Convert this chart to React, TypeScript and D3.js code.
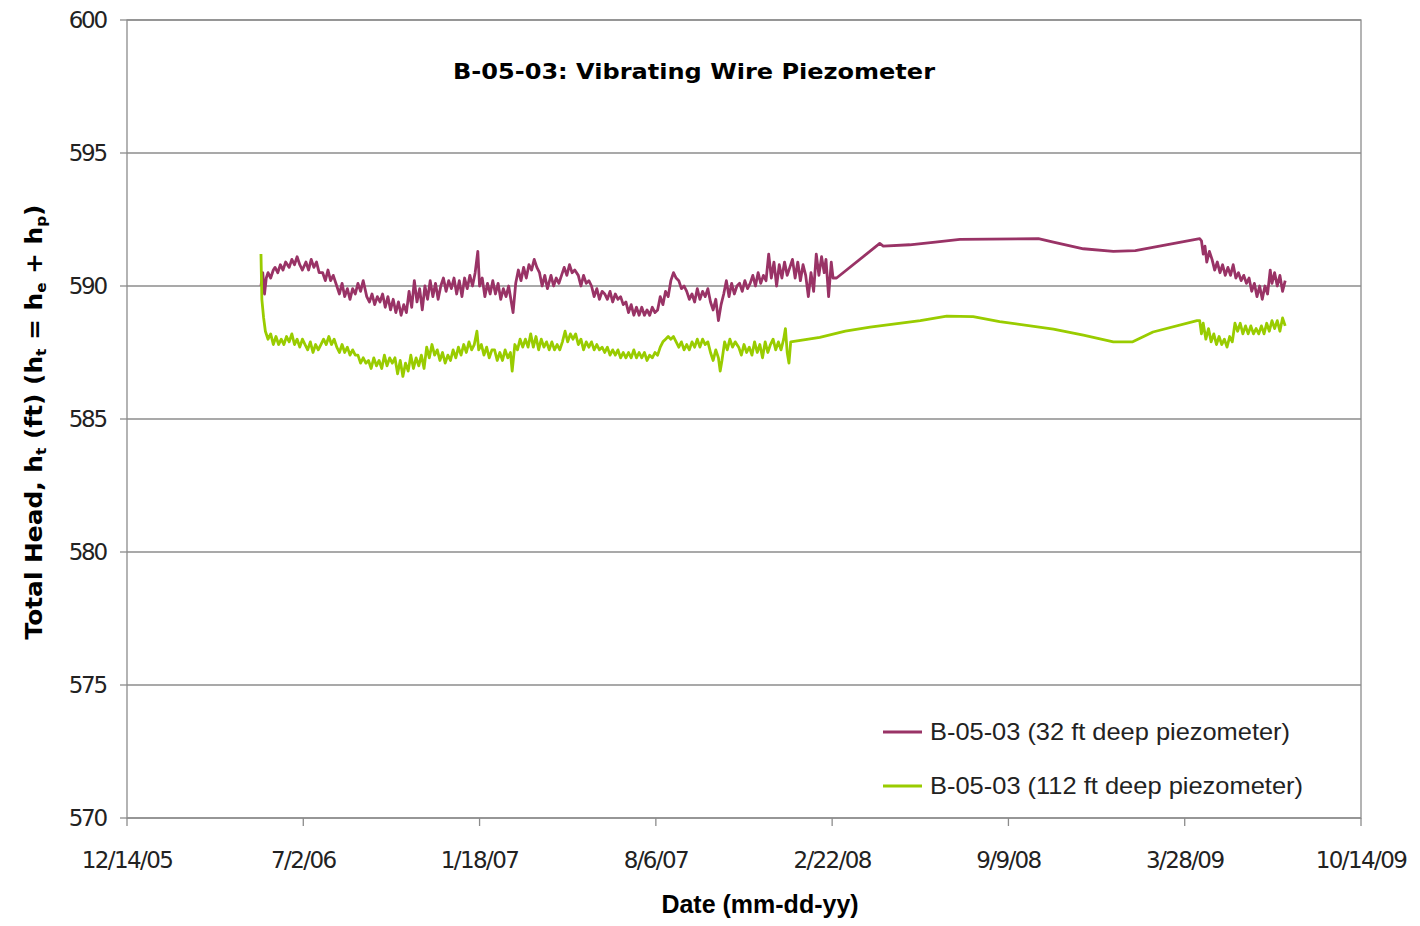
import React from "react";
import * as d3 from "d3";

const TITLE = "B-05-03: Vibrating Wire Piezometer";
const X_TICK_LABELS = ["12/14/05", "7/2/06", "1/18/07", "8/6/07", "2/22/08", "9/9/08", "3/28/09", "10/14/09"];
const Y_TICKS = [570, 575, 580, 585, 590, 595, 600];
const START_DATE = "12/14/05";
const SERIES_NAMES = ["B-05-03 (32 ft deep piezometer)", "B-05-03 (112 ft deep piezometer)"];
const SERIES_COLORS = ["#993366", "#99cc00"];

// [days since 12/14/05, total head ft]
const shallow: [number, number][] = [
  [152, 590.0], [154, 590.5], [156, 589.7], [158, 590.3], [160, 590.5], [163, 590.3], [166, 590.6],
  [168, 590.7], [171, 590.5], [174, 590.8], [177, 590.6], [180, 590.9],
  [184, 590.7], [187, 591.0], [190, 590.8], [193, 591.1], [196, 590.8], [199, 590.6],
  [203, 590.9], [206, 590.6], [209, 591.0], [212, 590.7], [215, 590.9], [218, 590.5],
  [222, 590.5], [225, 590.2], [228, 590.6], [231, 590.2], [234, 590.4],
  [238, 590.0], [241, 589.7], [244, 590.1], [247, 589.6], [250, 589.9], [253, 589.5], [256, 589.9], [259, 589.7],
  [262, 590.1], [265, 589.8], [268, 590.2],
  [272, 589.6], [275, 589.4], [278, 589.7], [281, 589.3], [284, 589.6], [287, 589.4],
  [290, 589.7], [293, 589.2], [296, 589.6], [299, 589.1], [302, 589.5],
  [305, 589.0], [308, 589.4], [311, 588.9], [314, 589.3], [317, 589.0],
  [320, 589.8], [323, 589.2], [326, 590.2], [329, 589.4], [332, 589.9], [335, 589.1], [338, 590.0],
  [341, 589.5], [344, 590.2], [347, 589.6], [350, 590.1], [353, 589.5], [356, 590.0],
  [359, 590.3], [362, 589.8], [365, 590.2], [368, 589.9], [371, 590.3],
  [374, 589.7], [377, 590.2], [380, 589.6],
  [383, 590.3], [386, 589.9], [389, 590.4], [392, 590.0], [395, 590.5], [398, 591.3], [400, 590.0],
  [403, 590.3], [406, 589.6], [409, 590.1], [412, 589.7], [415, 590.2],
  [418, 589.7], [421, 590.1], [424, 589.5], [427, 589.9], [430, 589.6], [433, 590.0], [436, 589.4], [438, 589.0],
  [441, 590.1], [444, 590.6], [447, 590.2], [450, 590.7], [453, 590.3], [456, 590.8],
  [459, 590.6], [462, 591.0], [465, 590.7],
  [468, 590.5], [471, 590.0], [474, 590.4], [477, 589.9],
  [481, 590.4], [484, 590.0], [487, 590.3], [490, 590.1], [493, 590.4],
  [496, 590.7], [499, 590.4], [502, 590.8], [505, 590.5], [508, 590.6],
  [512, 590.4], [515, 590.0], [518, 590.4], [521, 590.1], [524, 590.2],
  [527, 590.0], [530, 589.6], [533, 589.9], [536, 589.5], [539, 589.8],
  [542, 589.7], [545, 589.5], [548, 589.8], [551, 589.4], [554, 589.7], [557, 589.5], [560, 589.6], [563, 589.3],
  [566, 589.4], [569, 589.0], [572, 589.3], [575, 588.9], [578, 589.2],
  [581, 588.9], [584, 589.2], [587, 588.9], [590, 589.1], [593, 588.9], [596, 589.2], [599, 589.0], [602, 589.1],
  [605, 589.6], [608, 589.3], [611, 589.8], [614, 589.6],
  [617, 590.2], [620, 590.5], [623, 590.3],
  [626, 590.2], [629, 589.9], [632, 590.0],
  [635, 589.8], [638, 589.5], [641, 589.7], [644, 589.4],
  [647, 589.9], [650, 589.5], [653, 589.8], [656, 589.6], [659, 589.9],
  [662, 589.4], [665, 589.1], [668, 589.5], [671, 588.7],
  [674, 589.3], [677, 589.7], [680, 590.2], [683, 589.6], [686, 590.1], [689, 589.7], [692, 590.0],
  [695, 590.1], [698, 589.8], [701, 590.2], [704, 589.9], [707, 590.1],
  [710, 590.4], [713, 590.0], [716, 590.5], [719, 590.1], [722, 590.4],
  [725, 590.2], [728, 591.2], [731, 590.3], [734, 590.9], [737, 590.0],
  [740, 590.8], [743, 590.3], [746, 590.9], [749, 590.4], [752, 590.7],
  [755, 591.0], [758, 590.3], [761, 590.9], [764, 590.2], [767, 590.8],
  [770, 590.4], [773, 589.6], [776, 590.5], [779, 589.8],
  [782, 591.2], [785, 590.4], [788, 591.1], [791, 590.5],
  [793, 591.0], [796, 589.6], [799, 590.9], [801, 590.3],
  [805, 590.3], [854, 591.6], [858, 591.5], [888, 591.55], [917, 591.65], [945, 591.75], [1034, 591.78],
  [1051, 591.65], [1085, 591.4], [1119, 591.3], [1144, 591.33], [1217, 591.78],
  [1219, 591.7], [1221, 591.2], [1223, 591.5], [1225, 590.9], [1228, 591.3], [1231, 591.0], [1234, 590.6],
  [1237, 590.9], [1240, 590.5], [1243, 590.8], [1246, 590.4], [1249, 590.7], [1252, 590.4], [1255, 590.8],
  [1258, 590.3], [1261, 590.5], [1264, 590.2], [1267, 590.4], [1270, 590.1], [1273, 590.3], [1276, 589.8],
  [1279, 590.1], [1282, 589.6], [1285, 590.0], [1288, 589.5], [1291, 590.0], [1294, 589.7], [1297, 590.6],
  [1299, 590.1], [1302, 590.5], [1305, 590.0], [1308, 590.4], [1311, 589.8], [1314, 590.2],
];

const deep: [number, number][] = [
  [152, 591.2], [153, 589.5], [155, 588.8], [157, 588.3], [160, 588.0], [163, 588.2],
  [166, 587.8], [169, 588.1], [172, 587.8], [175, 588.0], [178, 587.8], [181, 588.1], [184, 587.9],
  [187, 588.2], [190, 587.8], [193, 588.0], [196, 587.7], [199, 588.0],
  [202, 587.8], [205, 587.6], [208, 587.9], [211, 587.5], [214, 587.8], [217, 587.6], [220, 587.8],
  [223, 588.0], [226, 587.8], [229, 588.1], [232, 587.8], [235, 588.0],
  [238, 587.7], [241, 587.5], [244, 587.8], [247, 587.5], [250, 587.7], [253, 587.4], [256, 587.6], [259, 587.4],
  [262, 587.4], [265, 587.1], [268, 587.3], [271, 587.1],
  [274, 587.2], [277, 586.9], [280, 587.3], [283, 587.0], [286, 587.2], [289, 586.9],
  [292, 587.4], [295, 587.0], [298, 587.3], [301, 587.1],
  [304, 587.3], [307, 586.7], [310, 587.2], [313, 586.6], [316, 587.1], [319, 586.8],
  [322, 587.4], [325, 586.9], [328, 587.3], [331, 587.0], [334, 587.4], [337, 586.9],
  [340, 587.7], [343, 587.3], [346, 587.8], [349, 587.4], [352, 587.6], [355, 587.2],
  [358, 587.5], [361, 587.1], [364, 587.4], [367, 587.2], [370, 587.6],
  [373, 587.3], [376, 587.7], [379, 587.4],
  [382, 587.8], [385, 587.5], [388, 587.9], [391, 587.6], [394, 587.8], [397, 588.3], [399, 587.6],
  [402, 587.8], [405, 587.4], [408, 587.7], [411, 587.3], [414, 587.6],
  [417, 587.6], [420, 587.2], [423, 587.5], [426, 587.2], [429, 587.6], [432, 587.3], [435, 587.5], [437, 586.8],
  [440, 587.8], [443, 587.6], [446, 588.0], [449, 587.7], [452, 588.0], [455, 587.7],
  [458, 588.2], [461, 587.7], [464, 588.1], [467, 587.6], [470, 588.0], [473, 587.7], [476, 587.9], [479, 587.6],
  [482, 587.9], [485, 587.6], [488, 587.8], [491, 587.6], [494, 587.9],
  [497, 588.3], [500, 587.9], [503, 588.2], [506, 588.0], [509, 588.2],
  [512, 587.8], [515, 588.0], [518, 587.6], [521, 587.9], [524, 587.7],
  [527, 587.9], [530, 587.6], [533, 587.8], [536, 587.6], [539, 587.7],
  [542, 587.5], [545, 587.7], [548, 587.4], [551, 587.6], [554, 587.4], [557, 587.6], [560, 587.3], [563, 587.5],
  [566, 587.3], [569, 587.5], [572, 587.3], [575, 587.6], [578, 587.3],
  [581, 587.5], [584, 587.3], [587, 587.5], [590, 587.2], [593, 587.4], [596, 587.3], [599, 587.5], [602, 587.4],
  [605, 587.7], [608, 587.9], [611, 588.0], [614, 588.1],
  [617, 588.0], [620, 588.1], [623, 587.9],
  [626, 587.7], [629, 587.9], [632, 587.6],
  [635, 587.8], [638, 587.6], [641, 587.9], [644, 587.7],
  [647, 588.0], [650, 587.7], [653, 588.0], [656, 587.8], [659, 587.9],
  [662, 587.5], [665, 587.2], [668, 587.6], [671, 587.3], [673, 586.8], [675, 587.2],
  [678, 587.9], [681, 587.6], [684, 588.0], [687, 587.7], [690, 587.9],
  [694, 587.7], [697, 587.4], [700, 587.8], [703, 587.5], [706, 587.7],
  [709, 587.4], [712, 587.9], [715, 587.5], [718, 587.8], [721, 587.3], [724, 587.9], [727, 587.5], [730, 587.8],
  [733, 588.0], [736, 587.6], [739, 587.9], [742, 587.6], [745, 588.0],
  [747, 588.4], [749, 587.5], [751, 587.1], [753, 587.9],
  [786, 588.07], [815, 588.3], [843, 588.45], [900, 588.7], [930, 588.87], [960, 588.85], [990, 588.66],
  [1051, 588.38], [1085, 588.15], [1119, 587.9], [1141, 587.9], [1164, 588.27], [1214, 588.7],
  [1217, 588.7], [1219, 588.2], [1221, 588.6], [1224, 588.0], [1227, 588.4], [1230, 587.9], [1233, 588.2],
  [1236, 587.8], [1239, 588.1], [1242, 587.8], [1245, 588.0], [1248, 587.7], [1251, 588.1], [1254, 587.9],
  [1257, 588.6], [1260, 588.3], [1263, 588.6], [1266, 588.2], [1269, 588.5], [1272, 588.2], [1275, 588.5],
  [1278, 588.2], [1281, 588.4], [1284, 588.2], [1287, 588.5], [1290, 588.2], [1293, 588.6], [1296, 588.3],
  [1299, 588.7], [1302, 588.4], [1305, 588.7], [1308, 588.3], [1311, 588.8], [1314, 588.5],
];

const SERIES = [shallow, deep];

const W = 1404;
const H = 916;
const M = { left: 119, right: 1353, top: 12, bottom: 810 };

export default function App() {
  const parse = d3.timeParse("%m/%d/%y");
  const start = parse(START_DATE) as Date;
  const tickDates = X_TICK_LABELS.map((s) => parse(s) as Date);
  const x = d3.scaleTime().domain([tickDates[0], tickDates[tickDates.length - 1]]).range([M.left, M.right]);
  const y = d3.scaleLinear().domain([570, 600]).range([M.bottom, M.top]);
  const line = d3
    .line<[number, number]>()
    .x((d) => x(d3.timeHour.offset(start, d[0] * 24)))
    .y((d) => y(d[1]))
    .curve(d3.curveLinear);

  const tickFont = "'DejaVu Sans', Verdana, sans-serif";
  const labelFont = "'Liberation Sans Narrow', 'Liberation Sans', Arial, sans-serif";

  return (
    <svg width={W} height={H} style={{ display: "block", background: "#fff" }}>
      {Y_TICKS.map((t) => (
        <line key={"g" + t} x1={M.left} x2={M.right} y1={y(t)} y2={y(t)} stroke="#8c8c8c" strokeWidth={1.3} />
      ))}
      <rect x={M.left} y={M.top} width={M.right - M.left} height={M.bottom - M.top} fill="none" stroke="#8c8c8c" strokeWidth={1.3} />
      {Y_TICKS.map((t) => (
        <g key={"y" + t}>
          <line x1={M.left - 7} x2={M.left} y1={y(t)} y2={y(t)} stroke="#8c8c8c" strokeWidth={1.3} />
          <text x={M.left - 21} y={y(t)} dy="0.35em" textAnchor="end" fontFamily={tickFont} fontSize={23} letterSpacing={-2.2} fill="#222">
            {t}
          </text>
        </g>
      ))}
      {tickDates.map((d, i) => (
        <g key={"x" + i}>
          <line x1={x(d)} x2={x(d)} y1={M.bottom} y2={M.bottom + 8} stroke="#8c8c8c" strokeWidth={1.3} />
          <text x={x(d)} y={M.bottom + 50} textAnchor="middle" fontFamily={tickFont} fontSize={23} letterSpacing={-1.6} fill="#222">
            {X_TICK_LABELS[i]}
          </text>
        </g>
      ))}
      {SERIES.map((s, i) => (
        <path key={"s" + i} d={line(s) || ""} fill="none" stroke={SERIES_COLORS[i]} strokeWidth={2.8} strokeLinejoin="round" />
      ))}
      <text x={686} y={71} textAnchor="middle" fontFamily="'DejaVu Sans', Verdana, sans-serif" fontWeight="bold" fontSize={21} fill="#000" textLength={482} lengthAdjust="spacingAndGlyphs">
        {TITLE}
      </text>
      <text x={752} y={905} textAnchor="middle" fontFamily={labelFont} fontWeight="bold" fontSize={25} fill="#000">
        Date (mm-dd-yy)
      </text>
      <text transform={`translate(34, ${(M.top + M.bottom) / 2 + 3}) rotate(-90)`} textAnchor="middle" fontFamily={tickFont} fontWeight="bold" fontSize={23} fill="#000" textLength={435} lengthAdjust="spacingAndGlyphs">
        Total Head, h<tspan fontSize={14} dy={4}>t</tspan>
        <tspan dy={-4}> (ft) (h</tspan>
        <tspan fontSize={14} dy={4}>t</tspan>
        <tspan dy={-4}> = h</tspan>
        <tspan fontSize={14} dy={4}>e</tspan>
        <tspan dy={-4}>  + h</tspan>
        <tspan fontSize={14} dy={4}>p</tspan>
        <tspan dy={-4}>)</tspan>
      </text>
      {SERIES_NAMES.map((n, i) => (
        <g key={"l" + i}>
          <line x1={875} x2={914} y1={724 + i * 54} y2={724 + i * 54} stroke={SERIES_COLORS[i]} strokeWidth={3} />
          <text x={922} y={724 + i * 54} dy="0.35em" fontFamily={labelFont} fontSize={24} fill="#222" textLength={i === 0 ? 360 : 373} lengthAdjust="spacingAndGlyphs">
            {n}
          </text>
        </g>
      ))}
    </svg>
  );
}
